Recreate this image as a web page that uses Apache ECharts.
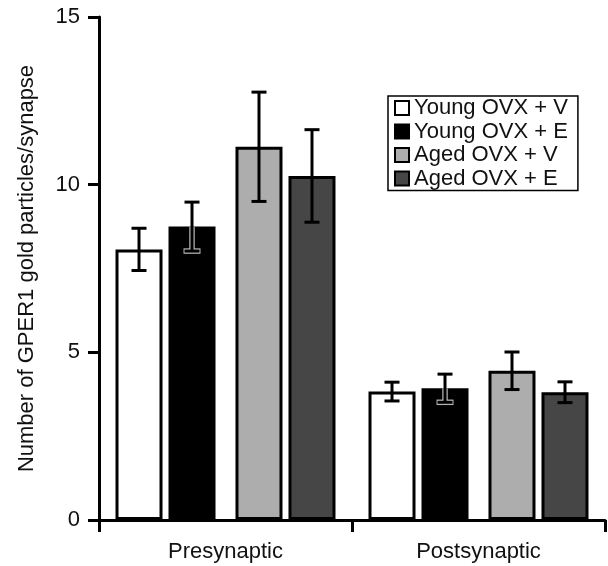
<!DOCTYPE html>
<html><head><meta charset="utf-8">
<script src="https://cdn.jsdelivr.net/npm/echarts@6/dist/echarts.min.js"></script>
<style>html,body{margin:0;padding:0;background:#fff}#c{width:608px;height:566px}</style>
</head><body><div id="c"></div>
<script>
// ---- data ----
const categories = ['Presynaptic', 'Postsynaptic'];
const groupNames = ['Young OVX + V', 'Young OVX + E', 'Aged OVX + V', 'Aged OVX + E'];
const youngV = [8.07, 3.83];
const youngE = [8.75, 3.93];
const agedV = [11.13, 4.45];
const agedE = [10.26, 3.81];
const youngVErr = [0.63, 0.28];
const youngEErr = [0.73, 0.42];
const agedVErr = [1.63, 0.56];
const agedEErr = [1.38, 0.31];
const yTicks = [0, 5, 10, 15];
const yTitle = 'Number of GPER1 gold particles/synapse';

// ---- style / layout ----
const FONT = '"Liberation Sans", Arial, Helvetica, sans-serif';
const colors = ['#ffffff', '#000000', '#adadad', '#464646'];
const BAR_W = 47, GAP_W = 12.4, GAP_PCT = 6 / 47, CAP_W = 15, BORDER = 3;

const means = [youngV, youngE, agedV, agedE];
const errs = [youngVErr, youngEErr, agedVErr, agedEErr];

// column layout mirroring ECharts bar layout (used for error-bar offsets)
const colWidths = [BAR_W, BAR_W, GAP_W, BAR_W, BAR_W];
const groupCol = [0, 1, 3, 4];
let sum = colWidths.reduce((a, w) => a + w * (1 + GAP_PCT), 0) - colWidths[colWidths.length - 1] * GAP_PCT;
let off = -sum / 2;
const centers = [];
colWidths.forEach(w => { centers.push(off + w / 2); off += w * (1 + GAP_PCT); });

const errData = [];
means.forEach((arr, g) => arr.forEach((m, i) => errData.push([i, m, errs[g][i], g])));

function barSeries(g) {
  return {
    name: groupNames[g], type: 'bar', data: means[g], barWidth: BAR_W, barGap: (GAP_PCT * 100) + '%',
    itemStyle: { color: colors[g], borderColor: '#000', borderWidth: BORDER },
    emphasis: { disabled: true }, z: 2
  };
}

const series = [
  barSeries(0), barSeries(1),
  { name: '__spacer', type: 'bar', data: ['-', '-'], barWidth: GAP_W, barGap: (GAP_PCT * 100) + '%', silent: true },
  barSeries(2), barSeries(3),
  {
    type: 'custom', name: '__err', data: errData, z: 5, silent: true,
    encode: { x: 0, y: 1 },
    renderItem(params, api) {
      const cat = api.value(0), m = api.value(1), e = api.value(2), g = api.value(3);
      const c = api.coord([cat, m]);
      const yt = api.coord([cat, m + e])[1];
      const yb = api.coord([cat, m - e])[1];
      const x = c[0] + centers[groupCol[g]];
      const hw = CAP_W / 2;
      const ch = [];
      const st = { stroke: '#000', lineWidth: 3, fill: null };
      if (g === 1) {
        const so = { stroke: '#b4b4b4', lineWidth: 5.5, fill: null };
        ch.push({ type: 'line', shape: { x1: x, y1: c[1], x2: x, y2: yb }, style: so });
        ch.push({ type: 'line', shape: { x1: x - hw - 1, y1: yb, x2: x + hw + 1, y2: yb }, style: so });
      }
      ch.push({ type: 'line', shape: { x1: x, y1: yt, x2: x, y2: yb }, style: st });
      ch.push({ type: 'line', shape: { x1: x - hw, y1: yt, x2: x + hw, y2: yt }, style: st });
      ch.push({ type: 'line', shape: { x1: x - hw, y1: yb, x2: x + hw, y2: yb }, style: st });
      return { type: 'group', children: ch };
    }
  }
];

const chart = echarts.init(document.getElementById('c'), null, { renderer: 'canvas' });
chart.setOption({
  animation: false,
  backgroundColor: '#fff',
  textStyle: { fontFamily: FONT },
  grid: { left: 99, right: 3, top: 17, bottom: 46, containLabel: false },
  legend: {
    data: groupNames, orient: 'vertical', left: 388, top: 96,
    icon: 'rect', itemWidth: 14, itemHeight: 14, itemGap: 1.5,
    padding: [1, 10, 1, 6], borderColor: '#000', borderWidth: 1.5, backgroundColor: '#fff',
    itemStyle: { borderColor: '#000', borderWidth: 2 },
    textStyle: { fontSize: 22, lineHeight: 22, color: '#111', fontFamily: FONT },
    selectedMode: false
  },
  xAxis: {
    type: 'category', data: categories,
    axisLine: { lineStyle: { color: '#000', width: 3 } },
    axisTick: { show: true, length: 12, lineStyle: { color: '#000', width: 3 } },
    axisLabel: { fontSize: 22, color: '#111', margin: 21, fontFamily: FONT },
    splitLine: { show: false }
  },
  yAxis: {
    type: 'value', min: yTicks[0], max: yTicks[yTicks.length - 1], interval: yTicks[1] - yTicks[0],
    name: yTitle, nameLocation: 'middle', nameGap: 61, nameRotate: 90,
    nameTextStyle: { fontSize: 22, color: '#111', fontFamily: FONT },
    axisLine: { show: true, lineStyle: { color: '#000', width: 3 } },
    axisTick: { show: true, length: 11, lineStyle: { color: '#000', width: 3 } },
    axisLabel: { fontSize: 22, color: '#111', margin: 19, fontFamily: FONT },
    splitLine: { show: false }
  },
  series: series
});
</script>
</body></html>
